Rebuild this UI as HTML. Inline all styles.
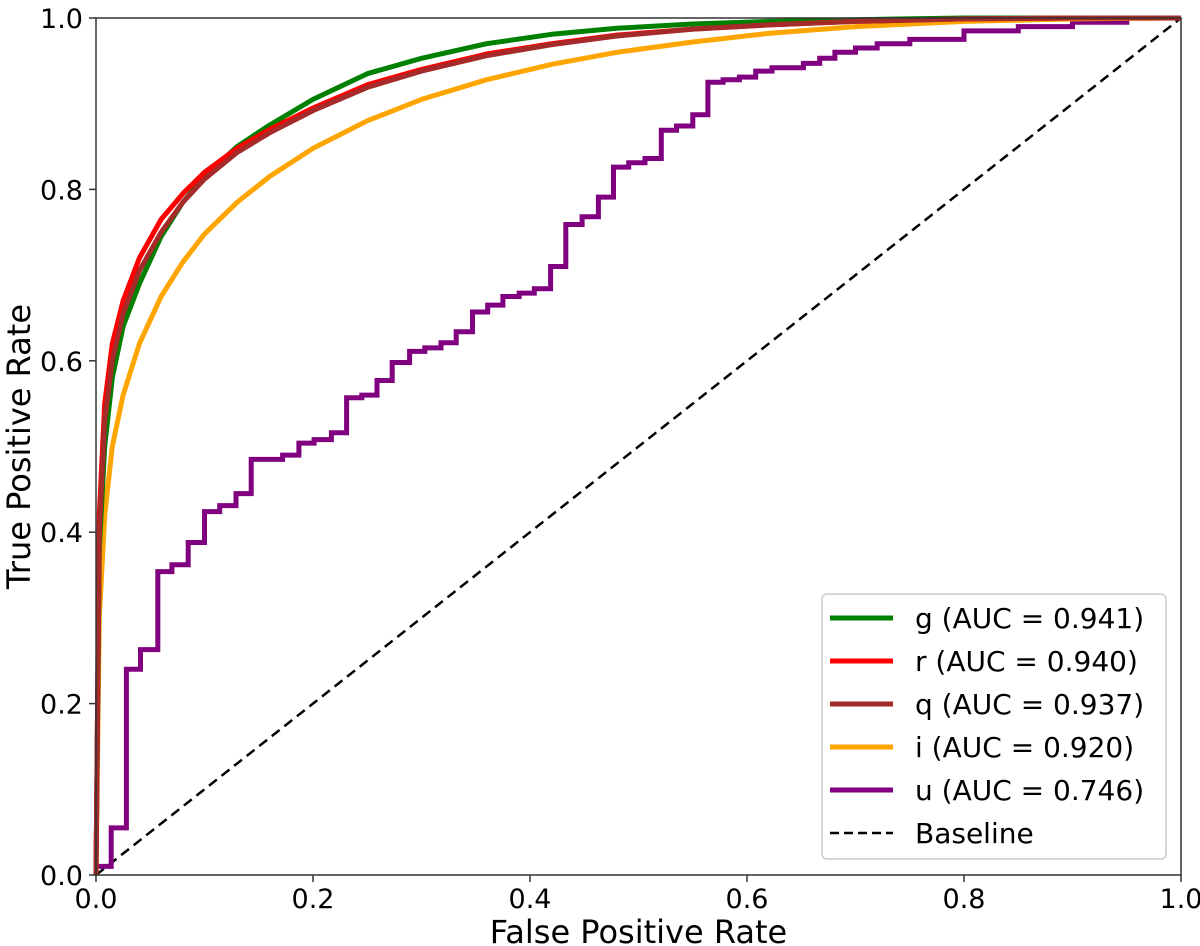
<!DOCTYPE html>
<html><head><meta charset="utf-8"><style>
html,body{margin:0;padding:0;background:#fff;}
svg{display:block;font-family:"DejaVu Sans","Liberation Sans",sans-serif;}
</style></head><body>
<svg id="chart" width="1200" height="946" viewBox="0 0 1200 946">
<g id="plot"></g>
<g id="axes"></g>
<g id="legend"></g>
</svg>
<script>
const xTicks = [0, 0.2, 0.4, 0.6, 0.8, 1.0];
const yTicks = [0, 0.2, 0.4, 0.6, 0.8, 1.0];
const tickLabels = ["0.0","0.2","0.4","0.6","0.8","1.0"];
const seriesNames = ["g (AUC = 0.941)","r (AUC = 0.940)","q (AUC = 0.937)","i (AUC = 0.920)","u (AUC = 0.746)","Baseline"];
const gX = [0,0.003,0.008,0.015,0.025,0.04,0.06,0.08,0.1,0.13,0.16,0.2,0.25,0.3,0.36,0.42,0.48,0.55,0.62,0.7,0.8,0.9,1];
const gY = [0,0.38,0.5,0.58,0.64,0.69,0.745,0.785,0.815,0.85,0.875,0.905,0.935,0.953,0.97,0.981,0.988,0.993,0.996,0.998,1,1,1];
const rX = [0,0.003,0.008,0.015,0.025,0.04,0.06,0.08,0.1,0.13,0.16,0.2,0.25,0.3,0.36,0.42,0.48,0.55,0.62,0.7,0.8,0.9,1];
const rY = [0,0.42,0.55,0.62,0.67,0.72,0.765,0.795,0.82,0.848,0.87,0.895,0.922,0.94,0.958,0.97,0.98,0.987,0.992,0.996,0.999,1,1];
const qX = [0,0.003,0.008,0.015,0.025,0.04,0.06,0.08,0.1,0.13,0.16,0.2,0.25,0.3,0.36,0.42,0.48,0.55,0.62,0.7,0.8,0.9,1];
const qY = [0,0.4,0.53,0.6,0.655,0.705,0.75,0.785,0.812,0.843,0.866,0.892,0.919,0.938,0.956,0.969,0.979,0.987,0.992,0.996,0.999,1,1];
const iX = [0,0.003,0.008,0.015,0.025,0.04,0.06,0.08,0.1,0.13,0.16,0.2,0.25,0.3,0.36,0.42,0.48,0.55,0.62,0.7,0.8,0.9,1];
const iY = [0,0.3,0.42,0.5,0.56,0.62,0.675,0.715,0.748,0.785,0.815,0.848,0.88,0.905,0.928,0.946,0.96,0.972,0.982,0.99,0.996,0.999,1];
const uX = [0,0.014,0.028,0.041,0.057,0.07,0.085,0.1,0.114,0.129,0.143,0.172,0.187,0.201,0.217,0.231,0.245,0.259,0.273,0.289,0.303,0.318,0.332,0.347,0.361,0.375,0.39,0.404,0.419,0.433,0.448,0.463,0.477,0.491,0.506,0.521,0.535,0.55,0.564,0.578,0.593,0.608,0.623,0.652,0.667,0.681,0.7,0.72,0.75,0.8,0.85,0.9,0.95,1];
const uY = [0.01,0.055,0.24,0.263,0.354,0.362,0.388,0.424,0.431,0.445,0.485,0.49,0.504,0.508,0.516,0.557,0.56,0.577,0.598,0.611,0.615,0.621,0.634,0.657,0.665,0.675,0.679,0.684,0.71,0.759,0.768,0.791,0.826,0.831,0.836,0.869,0.874,0.887,0.925,0.928,0.931,0.938,0.942,0.947,0.953,0.96,0.965,0.97,0.975,0.985,0.99,0.995,1,1];
const baseX = [0,1];
const baseY = [0,1];

const X0=96, X1=1181, Y0=875, Y1=18;
const sx = v => X0 + v*(X1-X0);
const sy = v => Y0 - v*(Y0-Y1);
const NS="http://www.w3.org/2000/svg";
function mk(tag, attrs, parent){const e=document.createElementNS(NS,tag);for(const k in attrs)e.setAttribute(k,attrs[k]);parent.appendChild(e);return e;}
const plot=document.getElementById('plot'), axes=document.getElementById('axes'), legend=document.getElementById('legend');

function smoothPath(xs, ys){return xs.map((x,i)=>(i?'L':'M')+sx(x).toFixed(1)+','+sy(ys[i]).toFixed(1)).join(' ');}
function stepPath(xs, ys){let d='M'+sx(xs[0])+','+sy(ys[0]);for(let i=1;i<xs.length;i++){d+=' L'+sx(xs[i]).toFixed(1)+','+sy(ys[i-1]).toFixed(1)+' L'+sx(xs[i]).toFixed(1)+','+sy(ys[i]).toFixed(1);}return d;}

const LW=5;
const bl=mk('path',{d:smoothPath(baseX,baseY),fill:'none',stroke:'#000','stroke-width':2.5,'stroke-dasharray':'10,6'},plot);


const up=mk('path',{d:stepPath(uX,uY),fill:'none',stroke:'#800080','stroke-width':LW},plot);


const ip=mk('path',{d:smoothPath(iX,iY),fill:'none',stroke:'#ffa500','stroke-width':LW,'stroke-linejoin':'round'},plot);


const gp=mk('path',{d:smoothPath(gX,gY),fill:'none',stroke:'#008000','stroke-width':LW,'stroke-linejoin':'round'},plot);


const rp=mk('path',{d:smoothPath(rX,rY),fill:'none',stroke:'#ff0000','stroke-width':LW,'stroke-linejoin':'round'},plot);


const qp=mk('path',{d:smoothPath(qX,qY),fill:'none',stroke:'#a52a2a','stroke-width':LW,'stroke-linejoin':'round'},plot);



const frame=mk('rect',{x:X0,y:Y1,width:X1-X0,height:Y0-Y1,fill:'none',stroke:'#333','stroke-width':1.5},axes);


xTicks.forEach((t,i)=>{
  const l=mk('line',{x1:sx(t),x2:sx(t),y1:Y0,y2:Y0+7,stroke:'#333','stroke-width':1.5},axes);
  
  
  const tx=mk('text',{x:sx(t),y:Y0+33,'font-size':27,'text-anchor':'middle',fill:'#000'},axes);
  tx.textContent=tickLabels[i];
  
  
});
yTicks.forEach((t,i)=>{
  const l=mk('line',{x1:X0-7,x2:X0,y1:sy(t),y2:sy(t),stroke:'#333','stroke-width':1.5},axes);
  
  
  const tx=mk('text',{x:X0-13,y:sy(t)+10,'font-size':27,'text-anchor':'end',fill:'#000'},axes);
  tx.textContent=tickLabels[i];
  
  
});
const xt=mk('text',{x:(X0+X1)/2,y:943,'font-size':32,'text-anchor':'middle'},axes);
xt.textContent='False Positive Rate';


const yt=mk('text',{x:0,y:0,'font-size':32,'text-anchor':'middle',transform:'translate(30,'+((Y0+Y1)/2)+') rotate(-90)'},axes);
yt.textContent='True Positive Rate';



const lb=mk('rect',{x:822,y:594,width:344,height:265,rx:5,fill:'#fff','fill-opacity':0.9,stroke:'#ccc','stroke-width':1.5},legend);


const colors=['#008000','#ff0000','#a52a2a','#ffa500','#800080','#000'];
seriesNames.forEach((n,i)=>{
  const y=618+i*43;
  const g=mk('g',{},legend);
  
  
  const attrs={x1:830,x2:893,y1:y,y2:y,stroke:colors[i],'stroke-width':i==5?2.5:LW};
  if(i==5) attrs['stroke-dasharray']='9,5';
  mk('line',attrs,g);
  const t=mk('text',{x:915,y:y+10,'font-size':28},g);
  t.textContent=n;
});
</script>
</body></html>
